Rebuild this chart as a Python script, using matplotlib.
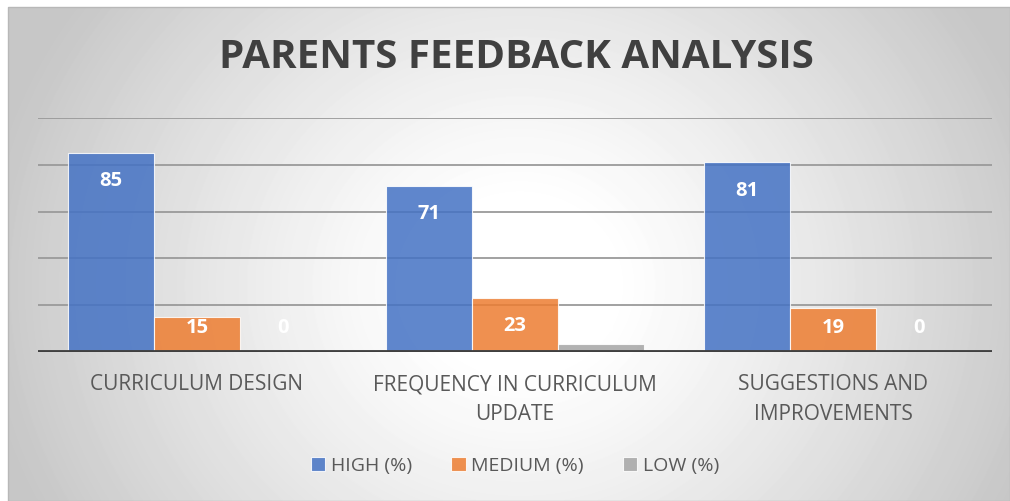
"""Parents feedback analysis: clustered bar chart in an Excel-like style."""

import matplotlib.pyplot as plt
import numpy as np
from matplotlib.patches import Rectangle

categories = ["CURRICULUM DESIGN", "FREQUENCY IN CURRICULUM\nUPDATE", "SUGGESTIONS AND\nIMPROVEMENTS"]
series_names = ["HIGH (%)", "MEDIUM (%)", "LOW (%)"]
high = [85, 71, 81]
medium = [15, 23, 19]
low = [0, 3.5, 0]
colors = ["#4472C4", "#ED7D31", "#A5A5A5"]

FONT = ["Open Sans", "DejaVu Sans"]
W, H = 1010, 501

fig = plt.figure(figsize=(W / 100, H / 100), dpi=100)
fig.patch.set_facecolor("white")

# Radial gradient of the chart frame: white in the middle, grey to the corners.
bg = fig.add_axes([8 / W, 0, 1 - 8 / W, 1 - 7 / H], zorder=0)
px_x, px_y = np.meshgrid(np.arange(8, W), np.arange(7, H))
dist = np.hypot(px_x - 520, (px_y - 285) * 1.1)
ramp = np.clip((dist - 90) / 450, 0, 1) ** 1.15
shade = 1.0 - 0.22 * ramp
bg.imshow(shade, cmap="gray", vmin=0, vmax=1, aspect="auto",
          extent=[0, 1, 1, 0], interpolation="bilinear")
bg.set_xlim(0, 1)
bg.set_ylim(1, 0)
bg.set_axis_off()
fig.add_artist(Rectangle((8 / W, 0), 1 - 8 / W, 1 - 7 / H, transform=fig.transFigure,
                         fill=False, edgecolor="#b8b8b8", linewidth=1.0, zorder=1))

ax = fig.add_axes([38 / W, (H - 352) / H, (992 - 38) / W, (352 - 118) / H], zorder=2)
ax.patch.set_alpha(0)
ax.set_xlim(-0.5, 2.5)
ax.set_ylim(0, 100)

x = np.arange(len(categories))
width = 86 / 318
values = [high, medium, low]
for i, (vals, color) in enumerate(zip(values, colors)):
    pos = x + (i - 1) * width
    ax.bar(pos, vals, width, color=color, alpha=0.85, edgecolor="#ffffff",
           linewidth=0.8, zorder=3, label=series_names[i])
    for px, v in zip(pos, vals):
        ax.text(px, max(v - 12, 10.3), f"{v:g}", ha="center", va="center", color="white",
                fontsize=14.5, fontweight="bold", family=FONT, zorder=4)

ax.set_yticks(np.arange(0, 101, 20))
ax.yaxis.grid(True, color="#9a9a9a", linewidth=1.3, zorder=1)
ax.axhline(0, color="#404040", linewidth=3.5, zorder=5)
ax.tick_params(left=False, labelleft=False, bottom=False, labelbottom=False)
for s in ax.spines.values():
    s.set_visible(False)

for xi, cat in zip(x, categories):
    ax.text(xi, -9.5, cat, ha="center", va="top", fontsize=15, color="#595959",
            family=FONT, linespacing=1.55)

fig.text(516 / W, 1 - 57 / H, "PARENTS FEEDBACK ANALYSIS", ha="center", va="center",
         fontsize=29, fontweight="bold", color="#404040", family=FONT)

leg = fig.legend(loc="center", bbox_to_anchor=(515 / W, 1 - 466 / H), ncol=3,
                 frameon=False, prop={"family": FONT, "size": 14},
                 handlelength=0.75, handleheight=0.75, handletextpad=0.3, columnspacing=2.0)
for t in leg.get_texts():
    t.set_color("#595959")

fig.savefig("out.png", dpi=100)
